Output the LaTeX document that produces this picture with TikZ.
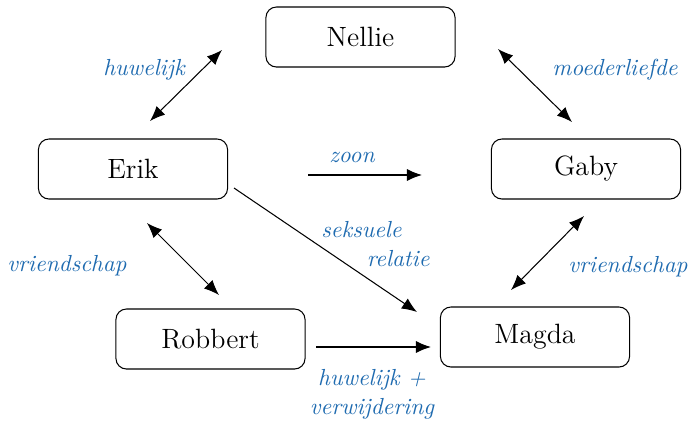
\documentclass[tikz,border=0pt]{standalone}
\usetikzlibrary{arrows.meta}
\definecolor{relblue}{RGB}{31,107,176}
\tikzset{
  person/.style={draw, rounded corners=4.5pt, line width=0.45pt,
    minimum width=81.3pt, minimum height=25.8pt, inner sep=0pt, font=\fontsize{12}{14}\selectfont},
  rel/.style={text=relblue, font=\fontsize{10}{12.5}\selectfont\itshape, inner sep=0pt},
  tip/.tip={Latex[length=6.5pt,width=5.2pt]},
  link/.style={line width=0.45pt, -tip},
  bilink/.style={line width=0.45pt, tip-tip}
}
\begin{document}
\begin{tikzpicture}[x=0.43pt, y=-0.43pt]
  \useasboundingbox (0,0) rectangle (690,424);

  % people
  \node[person] (nellie)  at (360.5,37)  {Nellie};
  \node[person] (erik)    at (133,169)   {Erik};
  \node[person] (gaby)    at (586,169)   {Gaby};
  \node[person] (robbert) at (210.5,339) {Robbert};
  \node[person] (magda)   at (535,337)   {Magda};

  % arrow end points
  \coordinate (en1) at (150,121);  \coordinate (en2) at (222,50);
  \coordinate (ng1) at (498,49);   \coordinate (ng2) at (572,122);
  \coordinate (z1)  at (308,175);  \coordinate (z2)  at (422,175);
  \coordinate (em1) at (234,188);  \coordinate (em2) at (417,312);
  \coordinate (er1) at (147,223);  \coordinate (er2) at (219,295);
  \coordinate (rm1) at (316,347);  \coordinate (rm2) at (431,347);
  \coordinate (gm1) at (511,290);  \coordinate (gm2) at (584,216);

  % relations
  \draw[bilink] (en1) -- (en2);
  \draw[bilink] (ng1) -- (ng2);
  \draw[link]   (z1) -- (z2);
  \draw[link]   (em1) -- (em2);
  \draw[bilink] (er1) -- (er2);
  \draw[link]   (rm1) -- (rm2);
  \draw[bilink] (gm1) -- (gm2);

  % relation labels
  \node[rel] (lhuw)   at (144,70)  {huwelijk};
  \node[rel, anchor=east] (lmoed) at (678,70) {moederliefde};
  \node[rel] (lzoon)  at (352,157) {zoon};
  \node[rel, align=right, anchor=east] (lsek) at (430,244) {seksuele\hspace*{12pt}\\relatie};
  \node[rel, anchor=west] (lvr1) at (7,266)  {vriendschap};
  \node[rel, anchor=east] (lvr2) at (688,267) {vriendschap};
  \node[rel, align=center] (lhuw2) at (372,394) {huwelijk +\\verwijdering};
\end{tikzpicture}
\end{document}
